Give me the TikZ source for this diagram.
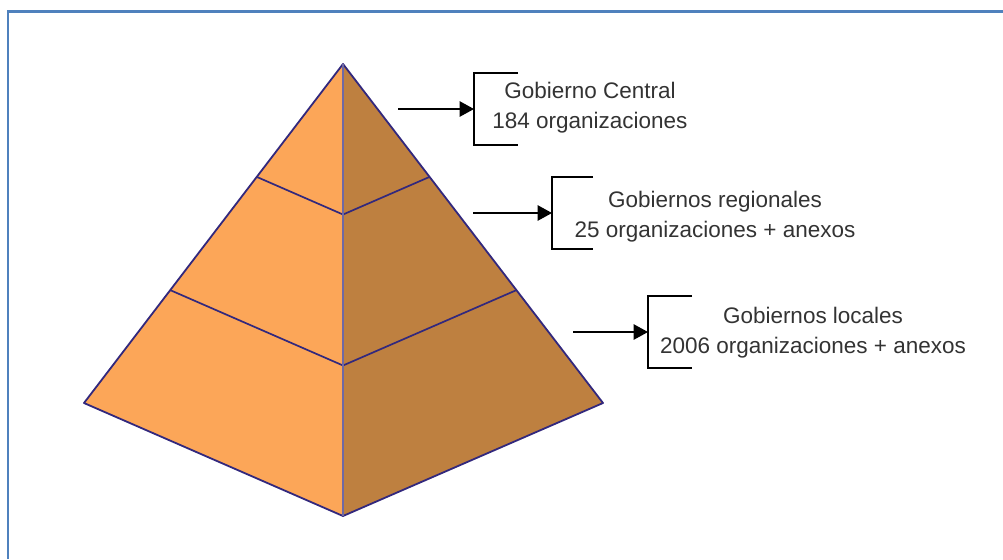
\documentclass[tikz,border=0pt]{standalone}
\usepackage{fontspec}
\setmainfont{Liberation Sans}
\usetikzlibrary{arrows.meta,positioning,calc}
\definecolor{faceleft}{RGB}{252,166,88}
\definecolor{faceright}{RGB}{190,128,64}
\definecolor{edgeblue}{RGB}{50,40,125}
\definecolor{frameblue}{RGB}{79,129,189}

\begin{document}
\begin{tikzpicture}[x=0.02cm, y=-0.02cm,
    face/.style={draw=edgeblue, line width=0.036cm, line join=round},
    tier/.style={draw=edgeblue, line width=0.034cm, line join=round},
    lab/.style={font=\fontsize{12.8}{17}\selectfont, text=black!80, align=center, inner sep=0pt},
    brk/.style={draw=black, line width=0.03cm},
    arr/.style={-{Triangle[length=0.29cm, width=0.31cm]}, black, line width=0.03cm},
  ]
  \useasboundingbox (0,0) rectangle (1003,559);
  \draw[frameblue, line width=0.06cm] (8,559) -- (8,11) -- (1003,11);

  % pyramid corners
  \coordinate (apex) at (343,64);
  \coordinate (bl)   at (84,403);
  \coordinate (br)   at (603,403);
  \coordinate (bc)   at (343,516);

  \fill[faceleft]  (apex) -- (bl) -- (bc) -- cycle;
  \fill[faceright] (apex) -- (bc) -- (br) -- cycle;

  % tier lines
  \draw[tier] ($(apex)!0.333!(bl)$) -- ($(apex)!0.333!(bc)$) -- ($(apex)!0.333!(br)$);
  \draw[tier] ($(apex)!0.667!(bl)$) -- ($(apex)!0.667!(bc)$) -- ($(apex)!0.667!(br)$);

  \draw[face] (apex) -- (bl) -- (bc) -- (br) -- cycle;
  \draw[edgeblue!70, line width=0.045cm] (apex) -- (bc);

  % labels
  \node[lab] (cen) at (590,108) {Gobierno Central\\184 organizaciones};
  \node[lab] (reg) at (715,217) {Gobiernos regionales\\25 organizaciones + anexos};
  \node[lab] (loc) at (813,333) {Gobiernos locales\\2006 organizaciones + anexos};

  % brackets
  \coordinate (b1) at (474,109);
  \coordinate (b2) at (552,213);
  \coordinate (b3) at (648,332);
  \draw[brk] (b1) ++(44,-36) -- ++(-44,0) -- ++(0,72) -- ++(44,0);
  \draw[brk] (b2) ++(41,-36) -- ++(-41,0) -- ++(0,72) -- ++(41,0);
  \draw[brk] (b3) ++(44,-36) -- ++(-44,0) -- ++(0,72) -- ++(44,0);

  % arrows
  \coordinate (a1) at (398,109);
  \coordinate (a2) at (473,213);
  \coordinate (a3) at (573,332);
  \draw[arr] (a1) -- (b1);
  \draw[arr] (a2) -- (b2);
  \draw[arr] (a3) -- (b3);
\end{tikzpicture}
\end{document}
